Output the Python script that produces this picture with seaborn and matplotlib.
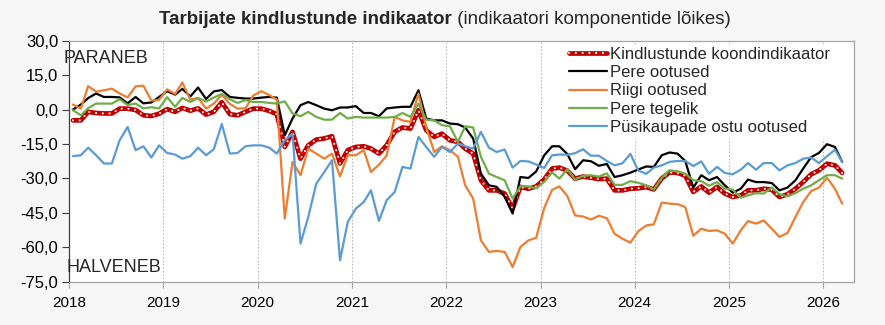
import numpy as np
import pandas as pd
import matplotlib
matplotlib.use("Agg")
import matplotlib.pyplot as plt
import matplotlib.dates as mdates
from matplotlib.lines import Line2D
from matplotlib.ticker import FixedLocator, FuncFormatter
import seaborn as sns

# ---------------- data (monthly, Jan 2018 .. Mar 2026) ----------------
start_month = "2018-01"

koondindikaator = [
    -4.7, -4.7, -1.0, -1.5, -1.7, -1.7, 0.4, 0.4, -0.2, -2.5,
    -2.8, -1.8, 0.2, -1.0, 0.7, -0.5, 0.5, -2.2, -1.0, 3.2,
    -2.0, -2.5, -1.0, 0.4, 0.4, -0.6, -2.0, -16.3, -9.7, -21.4,
    -15.6, -13.1, -12.6, -11.6, -23.5, -17.7, -16.3, -16.0, -17.0, -19.2,
    -15.5, -9.7, -7.8, -8.3, -0.3, -9.0, -11.9, -10.5, -13.4, -14.1,
    -17.0, -19.2, -30.8, -35.2, -35.2, -36.6, -43.2, -33.7, -34.5, -33.5,
    -30.5, -25.7, -25.3, -26.6, -30.1, -29.2, -29.7, -30.3, -30.1, -35.2,
    -35.2, -34.5, -34.3, -33.8, -34.8, -30.0, -27.4, -27.6, -28.8, -35.9,
    -33.5, -36.2, -33.7, -36.6, -38.1, -37.4, -35.2, -35.2, -34.5, -34.9,
    -38.1, -36.9, -34.5, -31.6, -28.2, -26.5, -23.6, -24.3, -27.6]

pere_ootused = [
    0.0, 2.2, 5.0, 7.0, 5.5, 5.5, 5.3, 2.7, 5.5, 2.7,
    3.1, 5.5, 8.0, 6.5, 9.0, 5.7, 9.6, 4.6, 7.9, 8.5,
    5.5, 5.1, 4.8, 4.8, 5.2, 5.5, 5.2, -11.2, -3.9, 1.9,
    3.3, 1.9, 0.4, -0.3, 0.9, 0.9, 1.5, -1.5, -1.5, -2.9,
    0.5, 0.9, 1.2, 1.2, 8.4, -3.9, -4.7, -4.7, -6.1, -6.4,
    -7.8, -12.6, -27.9, -33.0, -33.7, -38.0, -45.3, -29.4, -29.8, -27.0,
    -20.0, -16.0, -16.0, -19.4, -26.0, -22.1, -22.5, -24.5, -23.7, -29.4,
    -28.6, -27.5, -26.1, -24.8, -25.0, -19.9, -18.7, -19.2, -22.4, -34.0,
    -28.6, -30.8, -29.4, -33.0, -36.2, -34.5, -30.5, -31.6, -31.6, -32.0,
    -35.2, -34.0, -30.8, -25.7, -20.7, -18.9, -15.1, -16.3, -22.8]

riigi_ootused = [
    2.2, 0.4, 10.2, 7.8, 8.4, 9.1, 7.0, 5.3, 10.1, 10.4,
    3.9, 4.2, 8.8, 6.8, 11.8, 4.3, 5.1, 0.4, 2.6, 6.4,
    2.5, 0.4, 0.6, 6.1, 8.0, 6.3, 4.4, -47.5, -22.8, -28.6,
    -17.0, -19.2, -21.4, -19.2, -29.1, -19.9, -19.9, -17.7, -27.2, -24.0,
    -20.0, -3.2, -4.7, -5.4, 7.0, -7.6, -18.5, -16.0, -17.7, -20.6,
    -33.0, -38.8, -57.0, -62.0, -61.6, -62.0, -68.6, -59.9, -57.0, -55.9,
    -43.0, -35.0, -33.5, -37.7, -46.1, -46.6, -47.9, -46.3, -47.3, -54.1,
    -56.3, -58.0, -53.0, -50.5, -50.0, -40.5, -41.0, -41.2, -42.5, -55.0,
    -51.9, -52.9, -52.6, -54.1, -58.4, -52.6, -48.6, -49.7, -48.3, -51.9,
    -55.5, -53.8, -46.8, -40.3, -35.5, -34.0, -29.7, -34.5, -41.0]

pere_tegelik = [
    -0.3, -2.5, 0.6, 2.6, 2.6, 2.6, 4.5, 2.0, 2.6, 0.5,
    1.0, 0.5, 5.4, 1.2, 5.1, 3.3, 5.0, 3.5, 5.2, 6.8,
    4.5, 2.9, 4.1, 3.3, 3.3, 2.9, 2.6, 3.6, -1.7, -2.9,
    -1.0, -3.2, -4.4, -4.4, -1.5, -3.9, -3.2, -3.5, -3.5, -3.5,
    -3.5, -3.2, -1.5, -3.2, 2.6, -4.4, -4.7, -6.8, -7.3, -14.1,
    -7.3, -7.8, -20.6, -27.9, -29.4, -30.8, -38.8, -33.4, -33.5, -34.3,
    -31.5, -27.4, -30.1, -26.0, -30.5, -28.9, -28.6, -29.2, -27.8, -32.8,
    -32.8, -31.2, -31.9, -33.0, -34.9, -29.8, -26.4, -27.0, -27.9, -30.8,
    -31.2, -33.2, -31.6, -34.5, -34.9, -38.4, -37.4, -36.4, -36.6, -34.0,
    -36.9, -37.8, -36.4, -34.5, -33.0, -30.8, -28.6, -28.6, -30.1]

pysikaupade_ootused = [
    -20.3, -19.9, -16.6, -19.9, -23.5, -23.5, -13.4, -7.6, -17.7, -16.0,
    -20.9, -15.6, -18.9, -19.6, -21.4, -20.3, -16.6, -19.9, -17.3, -6.3,
    -19.2, -18.9, -16.0, -15.6, -15.6, -16.6, -19.2, -13.4, -10.5, -58.4,
    -46.8, -32.3, -27.2, -22.1, -65.7, -49.0, -43.2, -40.3, -35.2, -48.5,
    -39.5, -35.9, -25.0, -25.7, -11.9, -16.3, -20.6, -16.3, -18.5, -14.8,
    -16.0, -17.0, -9.7, -16.6, -18.5, -17.4, -25.3, -22.4, -22.6, -23.9,
    -25.5, -19.9, -19.6, -19.7, -19.0, -17.3, -20.1, -20.1, -22.4, -24.3,
    -23.4, -19.3, -26.6, -28.0, -25.3, -24.3, -22.8, -22.4, -22.4, -24.6,
    -22.6, -28.0, -25.0, -27.6, -28.2, -26.2, -23.3, -26.2, -23.3, -23.3,
    -26.5, -24.3, -23.3, -21.4, -20.9, -23.3, -20.4, -17.5, -22.8]

series_labels = ["Kindlustunde koondindikaator", "Pere ootused", "Riigi ootused",
                 "Pere tegelik", "Püsikaupade ostu ootused"]
series_colors = ["#C00000", "#000000", "#ED7D31", "#70AD47", "#5B9BD5"]
title_bold = "Tarbijate kindlustunde indikaator"
title_rest = " (indikaatori komponentide lõikes)"
y_ticks = [30, 15, 0, -15, -30, -45, -60, -75]
year_labels = [2018, 2019, 2020, 2021, 2022, 2023, 2024, 2025, 2026]
text_up = "PARANEB"
text_down = "HALVENEB"

# ---------------- frame ----------------
months = pd.date_range(start_month, periods=len(koondindikaator), freq="MS") + pd.Timedelta(days=14)
df = pd.DataFrame({
    "kuu": months,
    series_labels[0]: koondindikaator,
    series_labels[1]: pere_ootused,
    series_labels[2]: riigi_ootused,
    series_labels[3]: pere_tegelik,
    series_labels[4]: pysikaupade_ootused,
})

sns.set_theme(style="white")
plt.rcParams["font.family"] = ["Liberation Sans", "DejaVu Sans"]

W, H = 885, 325
fig = plt.figure(figsize=(W / 100, H / 100), dpi=100, facecolor="#f7f7f7")
ax = fig.add_axes([69.3 / W, 1 - 281.7 / H, 785 / W, 241 / H])
ax.set_facecolor("white")

# red composite line: thick red with white round dots
sns.lineplot(data=df, x="kuu", y=series_labels[0], color=series_colors[0], lw=3.4,
             errorbar=None, ax=ax, zorder=3)
sns.lineplot(data=df, x="kuu", y=series_labels[0], color="white", lw=1.5,
             linestyle=(0, (0.05, 3.2)), dash_capstyle="round",
             errorbar=None, ax=ax, zorder=3.1)
for lab, col in zip(series_labels[1:], series_colors[1:]):
    sns.lineplot(data=df, x="kuu", y=lab, color=col, lw=1.6, errorbar=None, ax=ax, zorder=3.2)

# axes
ax.set_xlim(pd.Timestamp(f"{year_labels[0]}-01-01"), pd.Timestamp("2026-05-01"))
ax.set_ylim(y_ticks[-1], y_ticks[0])
ax.yaxis.set_major_locator(FixedLocator(y_ticks))
ax.yaxis.set_major_formatter(FuncFormatter(lambda v, p: f"{v:.1f}".replace(".", ",")))
year_pos = [mdates.date2num(pd.Timestamp(f"{y}-01-01")) for y in year_labels]
ax.xaxis.set_major_locator(FixedLocator(year_pos))
ax.set_xticklabels([str(y) for y in year_labels])
ax.set_xlabel("")
ax.set_ylabel("")

ax.tick_params(axis="y", which="major", left=True, length=5, width=0.8, color="#404040",
               labelsize=12, pad=3, labelcolor="black")
ax.tick_params(axis="x", which="major", bottom=True, length=4, width=0.8, color="#a6a6a6",
               labelsize=11, pad=6, labelcolor="black")
ax.grid(axis="x", color="#b0b0b0", linestyle=(0, (1.5, 2)), lw=0.7)
ax.grid(axis="y", visible=False)
for s in ["top", "right", "bottom"]:
    ax.spines[s].set_color("#a6a6a6")
    ax.spines[s].set_linewidth(0.9)
ax.spines["left"].set_color("#404040")
ax.spines["left"].set_linewidth(0.9)

ax.text(-0.007, 0.926, text_up, transform=ax.transAxes, fontsize=13, va="center", ha="left", zorder=5)
ax.text(-0.004, 0.057, text_down, transform=ax.transAxes, fontsize=13, va="center", ha="left", zorder=5)

# legend
h_red = (Line2D([], [], color=series_colors[0], lw=3.4),
         Line2D([], [], color="white", lw=1.5, linestyle=(0, (0.05, 3.2)), dash_capstyle="round"))
handles = [h_red] + [Line2D([], [], color=c, lw=1.6) for c in series_colors[1:]]
leg = ax.legend(handles, series_labels, loc="upper left", bbox_to_anchor=(0.633, 0.985),
                fontsize=12, frameon=True, fancybox=False, facecolor="white", edgecolor="white",
                framealpha=1, borderpad=0.15, borderaxespad=0, handlelength=2.3,
                handletextpad=0.2, labelspacing=0.2)
leg.set_zorder(6)

# title: bold part + normal part centred together
r = fig.canvas.get_renderer()
ty = 1 - 20 / H
t1 = fig.text(0, ty, title_bold, fontsize=13.5, fontweight="bold", va="center", ha="left")
t2 = fig.text(0, ty, title_rest, fontsize=13.5, va="center", ha="left")
w1 = t1.get_window_extent(r).width
w2 = t2.get_window_extent(r).width
x0 = 445 - (w1 + w2) / 2
t1.set_x(x0 / W)
t2.set_x((x0 + w1) / W)

fig.savefig("out.png", dpi=100, facecolor=fig.get_facecolor())
